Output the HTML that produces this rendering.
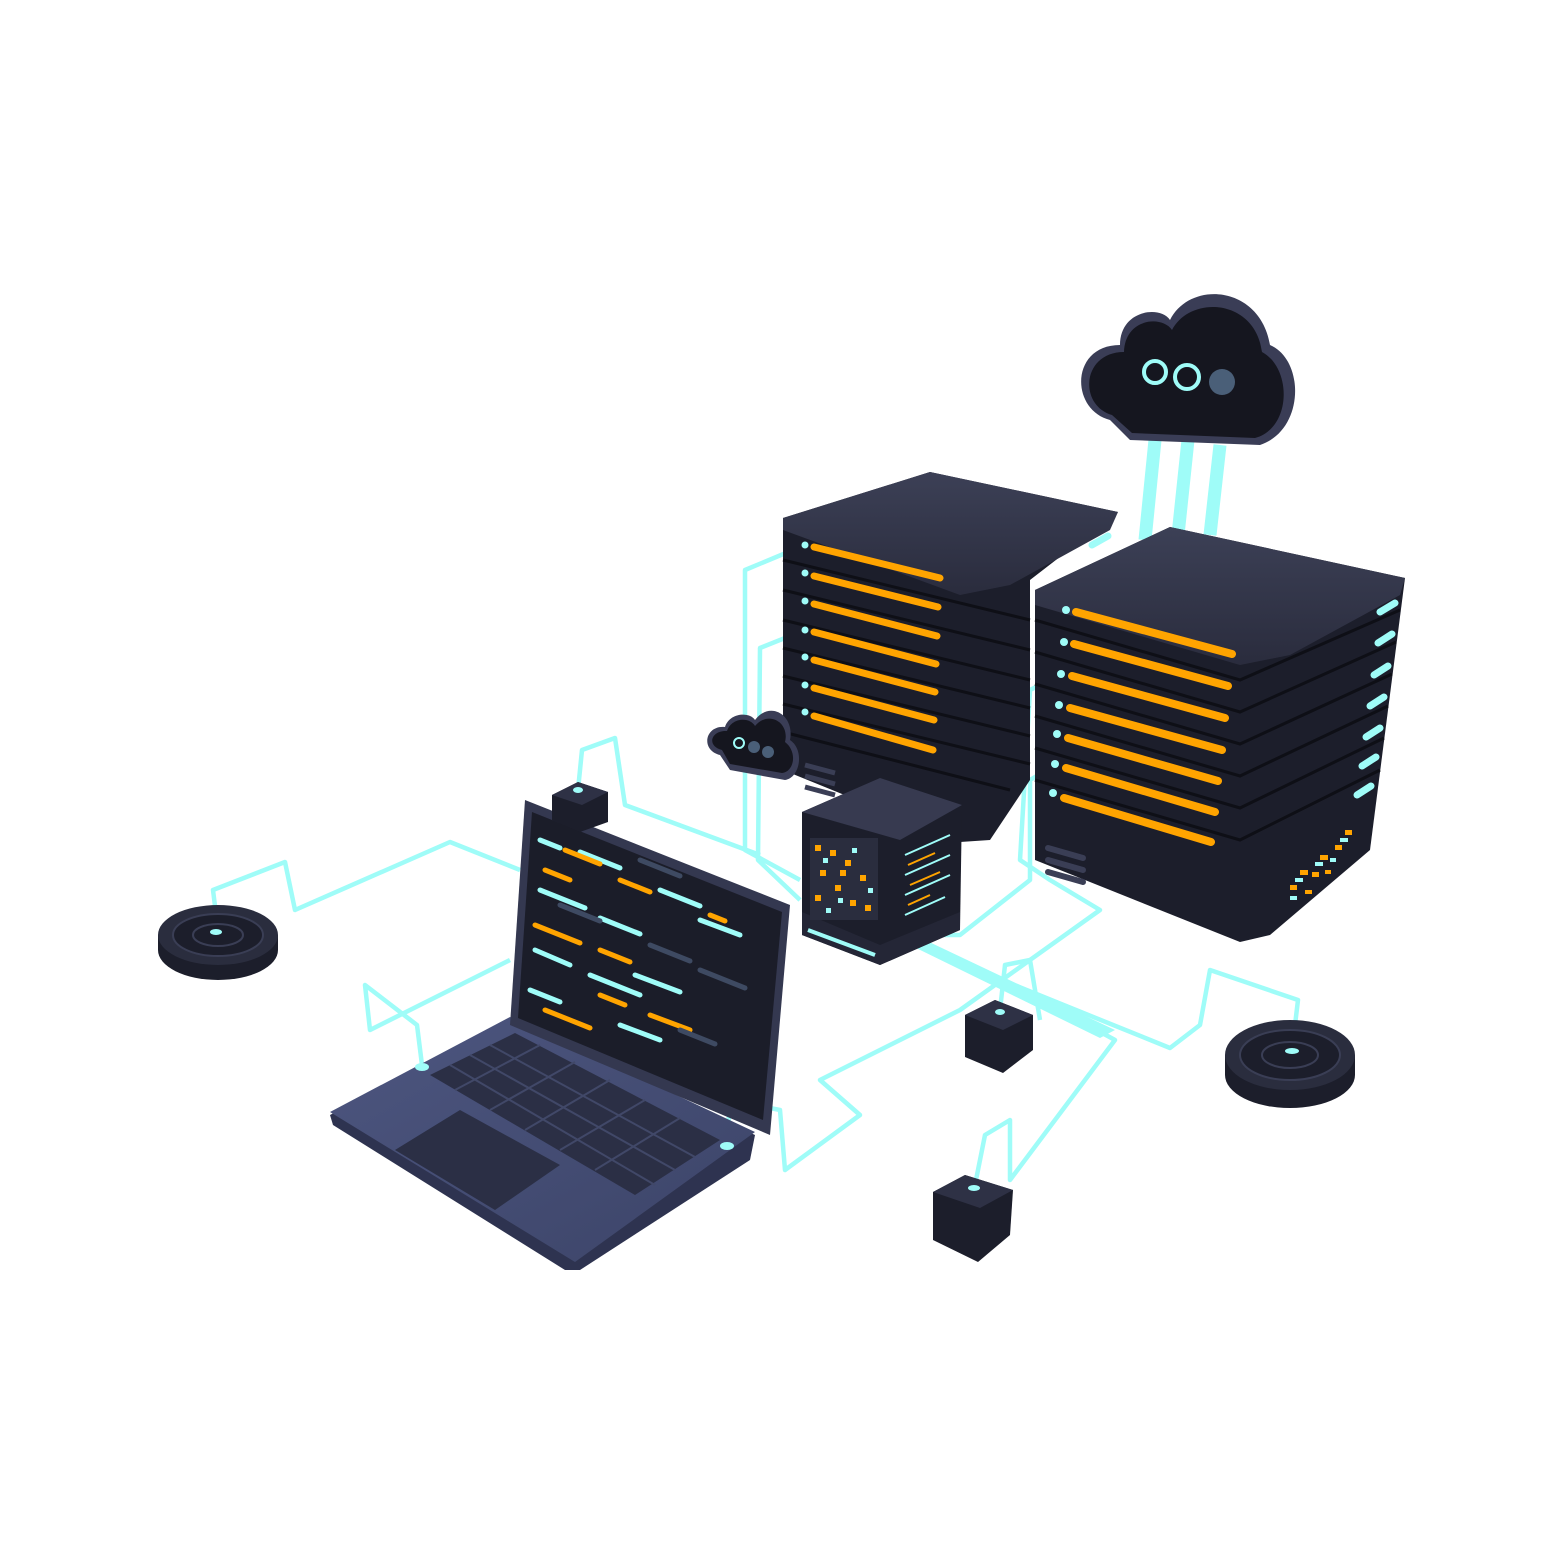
<!DOCTYPE html>
<html><head><meta charset="utf-8"><style>
html,body{margin:0;padding:0;background:#fff;}
svg{display:block;}
</style></head><body>
<svg width="1563" height="1563" viewBox="0 0 1563 1563" xmlns="http://www.w3.org/2000/svg">
<rect width="1563" height="1563" fill="#fff"/>
<defs>
<linearGradient id="top" x1="0" y1="0" x2="0" y2="1"><stop offset="0" stop-color="#3c4056"/><stop offset="1" stop-color="#2a2c3d"/></linearGradient>
<linearGradient id="lap" x1="0" y1="0" x2="1" y2="1"><stop offset="0" stop-color="#4d5680"/><stop offset="1" stop-color="#3c4468"/></linearGradient>
</defs>

<g fill="none" stroke="#9ffcf8" stroke-width="4.5" stroke-linejoin="round">
<polyline points="218,930 213,890 285,862 295,910 450,842 520,870"/>
<polyline points="422,1065 417,1025 365,985 370,1030 510,960"/>
<polyline points="578,790 582,750 615,738 625,805 760,855"/>
<polyline points="805,545 745,570 745,850 800,880"/>
<polyline points="805,630 760,648 758,860 800,900"/>
<polyline points="1060,675 1030,690 1020,860 1050,880 1100,910 960,1010 820,1080 860,1115 785,1170 780,1110 730,1100 727,1145"/>
<polyline points="1055,765 1030,780 1030,880 960,935 930,935"/>
<polyline points="1000,1010 1005,965 1030,960 1040,1020"/>
<polyline points="975,1185 985,1135 1010,1120 1010,1180 1115,1040 1060,1010 960,965"/>
<polyline points="1292,1050 1298,1000 1210,970 1200,1025 1170,1048 940,955"/>
</g>
<polygon points="910,945 925,940 1115,1030 1100,1038" fill="#9ffcf8"/>

<g stroke="#9ffcf8" stroke-width="13">
<line x1="1155" y1="440" x2="1145" y2="540"/>
<line x1="1188" y1="440" x2="1178" y2="535"/>
<line x1="1220" y1="445" x2="1210" y2="535"/>
</g>

<path d="M1110,420 C1070,410 1070,345 1120,345 C1120,310 1160,305 1170,320 C1190,280 1260,285 1270,345 C1305,360 1305,430 1260,445 L1130,440 Z" fill="#3a3d56"/>
<path d="M1112,415 C1078,405 1082,352 1124,352 C1125,318 1162,315 1172,330 C1190,295 1255,298 1262,352 C1292,368 1292,428 1255,438 L1132,433 Z" fill="#15161f"/>
<circle cx="1155" cy="372" r="11" fill="none" stroke="#9ffcf8" stroke-width="4"/>
<circle cx="1187" cy="377" r="12" fill="none" stroke="#9ffcf8" stroke-width="4"/>
<circle cx="1222" cy="382" r="13" fill="#4a5f78"/>

<!-- left server -->
<path d="M783,518 L930,472 L1118,512 L1030,580 L1030,780 L990,840 L960,842 L783,770 Z" fill="#1c1e2b"/>
<path d="M783,518 L930,472 L1118,512 L1110,530 L1010,585 L960,595 L783,530 Z" fill="url(#top)"/>
<g stroke="#0e0f16" stroke-width="3">
<line x1="783" y1="560" x2="1030" y2="620"/><line x1="783" y1="590" x2="1030" y2="650"/>
<line x1="783" y1="620" x2="1030" y2="680"/><line x1="783" y1="648" x2="1030" y2="708"/>
<line x1="783" y1="676" x2="1030" y2="736"/><line x1="783" y1="704" x2="1030" y2="764"/>
<line x1="783" y1="732" x2="1010" y2="790"/>
</g>
<g stroke="#ffa400" stroke-width="7" stroke-linecap="round">
<line x1="814" y1="547" x2="940" y2="578"/><line x1="814" y1="576" x2="938" y2="607"/>
<line x1="814" y1="604" x2="937" y2="636"/><line x1="814" y1="632" x2="936" y2="664"/>
<line x1="814" y1="660" x2="935" y2="692"/><line x1="814" y1="688" x2="934" y2="720"/>
<line x1="814" y1="716" x2="933" y2="750"/>
</g>
<g fill="#9ffcf8"><circle cx="805" cy="545" r="3.5"/><circle cx="805" cy="573" r="3.5"/><circle cx="805" cy="601" r="3.5"/><circle cx="805" cy="630" r="3.5"/><circle cx="805" cy="657" r="3.5"/><circle cx="805" cy="685" r="3.5"/><circle cx="805" cy="712" r="3.5"/></g>
<line x1="1092" y1="545" x2="1108" y2="536" stroke="#9ffcf8" stroke-width="7" stroke-linecap="round"/>

<!-- right server -->
<path d="M1035,590 L1170,527 L1405,578 L1370,850 L1270,935 L1240,942 L1035,860 Z" fill="#1c1e2b"/>
<path d="M1035,590 L1170,527 L1405,578 L1400,595 L1290,655 L1240,665 L1035,605 Z" fill="url(#top)"/>
<g stroke="#0e0f16" stroke-width="3" fill="none">
<polyline points="1035,620 1240,680 1400,610"/><polyline points="1035,652 1240,712 1396,642"/>
<polyline points="1035,684 1240,744 1392,674"/><polyline points="1035,716 1240,776 1388,706"/>
<polyline points="1035,748 1240,808 1384,738"/><polyline points="1035,780 1240,840 1380,770"/>
</g>
<g stroke="#ffa400" stroke-width="8" stroke-linecap="round">
<line x1="1076" y1="612" x2="1232" y2="654"/><line x1="1074" y1="644" x2="1228" y2="686"/>
<line x1="1072" y1="676" x2="1225" y2="718"/><line x1="1070" y1="708" x2="1222" y2="750"/>
<line x1="1068" y1="738" x2="1218" y2="781"/><line x1="1066" y1="768" x2="1215" y2="812"/>
<line x1="1064" y1="798" x2="1211" y2="842"/>
</g>
<g fill="#9ffcf8"><circle cx="1066" cy="610" r="4"/><circle cx="1064" cy="642" r="4"/><circle cx="1061" cy="674" r="4"/><circle cx="1059" cy="705" r="4"/><circle cx="1057" cy="734" r="4"/><circle cx="1055" cy="764" r="4"/><circle cx="1053" cy="793" r="4"/></g>
<g stroke="#9ffcf8" stroke-width="7" stroke-linecap="round">
<line x1="1380" y1="612" x2="1395" y2="603"/><line x1="1378" y1="643" x2="1392" y2="634"/>
<line x1="1374" y1="675" x2="1388" y2="666"/><line x1="1370" y1="706" x2="1384" y2="697"/>
<line x1="1366" y1="737" x2="1380" y2="728"/><line x1="1362" y1="766" x2="1376" y2="757"/>
<line x1="1357" y1="795" x2="1371" y2="786"/>
</g>
<g stroke="#3a3e55" stroke-width="6" stroke-linecap="round">
<line x1="1048" y1="848" x2="1083" y2="858"/><line x1="1048" y1="860" x2="1083" y2="870"/><line x1="1048" y1="872" x2="1083" y2="882"/>
</g>
<g fill="#ffa400">
<rect x="1290" y="885" width="7" height="5"/><rect x="1300" y="870" width="8" height="5"/><rect x="1312" y="872" width="7" height="5"/><rect x="1320" y="855" width="8" height="5"/><rect x="1335" y="845" width="7" height="5"/><rect x="1345" y="830" width="7" height="5"/><rect x="1305" y="890" width="7" height="4"/><rect x="1325" y="870" width="6" height="4"/>
</g>
<g fill="#9ffcf8"><rect x="1295" y="878" width="8" height="4"/><rect x="1315" y="862" width="8" height="4"/><rect x="1340" y="838" width="8" height="4"/><rect x="1290" y="896" width="7" height="4"/><rect x="1330" y="858" width="6" height="4"/></g>

<!-- small cloud -->
<path d="M720,755 C700,750 705,725 725,727 C730,712 750,712 755,720 C770,700 795,715 790,740 C805,750 800,778 785,780 L730,770 Z" fill="#3a3d56"/>
<path d="M722,750 C706,746 711,730 727,731 C732,717 750,717 755,726 C768,710 790,722 785,742 C798,752 794,772 782,773 L730,764 Z" fill="#15161f"/>
<circle cx="739" cy="743" r="5" fill="none" stroke="#9ffcf8" stroke-width="2"/>
<circle cx="754" cy="747" r="6" fill="#4a5f78"/><circle cx="768" cy="752" r="6" fill="#4a5f78"/>
<g stroke="#3a3e55" stroke-width="5"><line x1="805" y1="765" x2="835" y2="773"/><line x1="805" y1="776" x2="835" y2="784"/><line x1="805" y1="787" x2="835" y2="795"/></g>

<!-- central cube -->
<path d="M802,812 L880,778 L962,805 L960,930 L880,965 L802,935 Z" fill="#1c1e2b"/>
<path d="M802,812 L880,778 L962,805 L900,840 Z" fill="#373a50"/>
<path d="M802,912 L880,945 L960,912 L960,930 L880,965 L802,935 Z" fill="#242636"/>
<line x1="808" y1="930" x2="875" y2="955" stroke="#9ffcf8" stroke-width="4"/>
<rect x="810" y="838" width="68" height="82" fill="#2a2d3e"/>
<g fill="#ffa400"><rect x="815" y="845" width="6" height="6"/><rect x="830" y="850" width="6" height="6"/><rect x="845" y="860" width="6" height="6"/><rect x="820" y="870" width="6" height="6"/><rect x="860" y="875" width="6" height="6"/><rect x="835" y="885" width="6" height="6"/><rect x="815" y="895" width="6" height="6"/><rect x="850" y="900" width="6" height="6"/><rect x="865" y="905" width="6" height="6"/><rect x="840" y="870" width="6" height="6"/></g>
<g fill="#9ffcf8"><rect x="823" y="858" width="5" height="5"/><rect x="852" y="848" width="5" height="5"/><rect x="838" y="898" width="5" height="5"/><rect x="868" y="888" width="5" height="5"/><rect x="826" y="908" width="5" height="5"/></g>
<g stroke="#9ffcf8" stroke-width="2"><line x1="905" y1="855" x2="950" y2="835"/><line x1="905" y1="875" x2="950" y2="855"/><line x1="905" y1="895" x2="950" y2="875"/><line x1="905" y1="915" x2="945" y2="897"/></g>
<g stroke="#ffa400" stroke-width="2"><line x1="908" y1="865" x2="935" y2="853"/><line x1="910" y1="885" x2="940" y2="872"/><line x1="908" y1="905" x2="930" y2="895"/></g>

<!-- laptop -->
<path d="M330,1115 L510,1020 L755,1135 L750,1160 L580,1270 L565,1270 L333,1125 Z" fill="#2e3350"/>
<path d="M330,1112 L510,1017 L755,1132 L575,1262 Z" fill="url(#lap)"/>
<path d="M430,1075 L515,1033 L720,1140 L635,1195 Z" fill="#2b2f45"/>
<g stroke="#414868" stroke-width="2">
<line x1="450" y1="1065" x2="655" y2="1185"/><line x1="470" y1="1055" x2="675" y2="1170"/><line x1="490" y1="1045" x2="695" y2="1157"/>
<line x1="455" y1="1090" x2="540" y2="1045"/><line x1="490" y1="1110" x2="575" y2="1062"/><line x1="525" y1="1130" x2="610" y2="1080"/><line x1="560" y1="1150" x2="645" y2="1100"/><line x1="595" y1="1170" x2="680" y2="1118"/>
</g>
<path d="M395,1150 L460,1110 L560,1165 L495,1210 Z" fill="#2b2f45"/>
<path d="M525,800 L790,905 L770,1135 L510,1025 Z" fill="#343850"/>
<path d="M532,812 L782,912 L763,1120 L518,1018 Z" fill="#1b1d29"/>
<g stroke-width="5" stroke-linecap="round">
<g stroke="#9ffcf8"><line x1="540" y1="840" x2="560" y2="848"/><line x1="580" y1="852" x2="620" y2="868"/><line x1="540" y1="890" x2="585" y2="908"/><line x1="600" y1="918" x2="640" y2="934"/><line x1="660" y1="890" x2="700" y2="906"/><line x1="535" y1="950" x2="570" y2="965"/><line x1="590" y1="975" x2="640" y2="995"/><line x1="635" y1="975" x2="680" y2="992"/><line x1="530" y1="990" x2="560" y2="1002"/><line x1="620" y1="1025" x2="660" y2="1040"/><line x1="700" y1="920" x2="740" y2="935"/></g>
<g stroke="#ffa400"><line x1="565" y1="850" x2="600" y2="864"/><line x1="545" y1="870" x2="570" y2="880"/><line x1="620" y1="880" x2="650" y2="892"/><line x1="535" y1="925" x2="580" y2="943"/><line x1="600" y1="950" x2="630" y2="962"/><line x1="545" y1="1010" x2="590" y2="1028"/><line x1="600" y1="995" x2="625" y2="1005"/><line x1="650" y1="1015" x2="690" y2="1030"/><line x1="710" y1="915" x2="725" y2="921"/></g>
<g stroke="#3e4a62"><line x1="640" y1="860" x2="680" y2="876"/><line x1="560" y1="905" x2="600" y2="921"/><line x1="700" y1="970" x2="745" y2="988"/><line x1="680" y1="1030" x2="715" y2="1044"/><line x1="650" y1="945" x2="690" y2="961"/></g>
</g>

<!-- pucks -->
<ellipse cx="218" cy="950" rx="60" ry="30" fill="#1c1e2b"/>
<rect x="158" y="935" width="120" height="15" fill="#1c1e2b"/>
<ellipse cx="218" cy="935" rx="60" ry="30" fill="#2a2d3e"/>
<ellipse cx="218" cy="935" rx="45" ry="21" fill="#1c1e2b" stroke="#3a3e55" stroke-width="2"/>
<ellipse cx="218" cy="935" rx="25" ry="11" fill="none" stroke="#3a3e55" stroke-width="2"/>
<ellipse cx="216" cy="932" rx="6" ry="3" fill="#9ffcf8"/>
<ellipse cx="1290" cy="1075" rx="65" ry="33" fill="#1c1e2b"/>
<rect x="1225" y="1055" width="130" height="20" fill="#1c1e2b"/>
<ellipse cx="1290" cy="1055" rx="65" ry="35" fill="#2a2d3e"/>
<ellipse cx="1290" cy="1055" rx="50" ry="25" fill="#1c1e2b" stroke="#3a3e55" stroke-width="2"/>
<ellipse cx="1290" cy="1055" rx="28" ry="13" fill="none" stroke="#3a3e55" stroke-width="2"/>
<ellipse cx="1292" cy="1051" rx="7" ry="3" fill="#9ffcf8"/>

<!-- small boxes -->
<path d="M552,795 L578,782 L608,792 L608,822 L580,832 L552,820 Z" fill="#1c1e2b"/><path d="M552,795 L578,782 L608,792 L582,805 Z" fill="#2e3145"/>
<ellipse cx="578" cy="790" rx="5" ry="3" fill="#9ffcf8"/>
<path d="M965,1015 L995,1000 L1033,1015 L1033,1050 L1003,1073 L965,1057 Z" fill="#1c1e2b"/><path d="M965,1015 L995,1000 L1033,1015 L1003,1030 Z" fill="#2e3145"/>
<ellipse cx="1000" cy="1012" rx="5" ry="3" fill="#9ffcf8"/>
<path d="M933,1192 L965,1175 L1013,1190 L1010,1235 L978,1262 L933,1240 Z" fill="#1c1e2b"/><path d="M933,1192 L965,1175 L1013,1190 L980,1208 Z" fill="#2e3145"/>
<ellipse cx="974" cy="1188" rx="6" ry="3" fill="#9ffcf8"/>
<ellipse cx="422" cy="1067" rx="7" ry="4" fill="#9ffcf8"/>
<ellipse cx="727" cy="1146" rx="7" ry="4" fill="#9ffcf8"/>
</svg>
</body></html>
